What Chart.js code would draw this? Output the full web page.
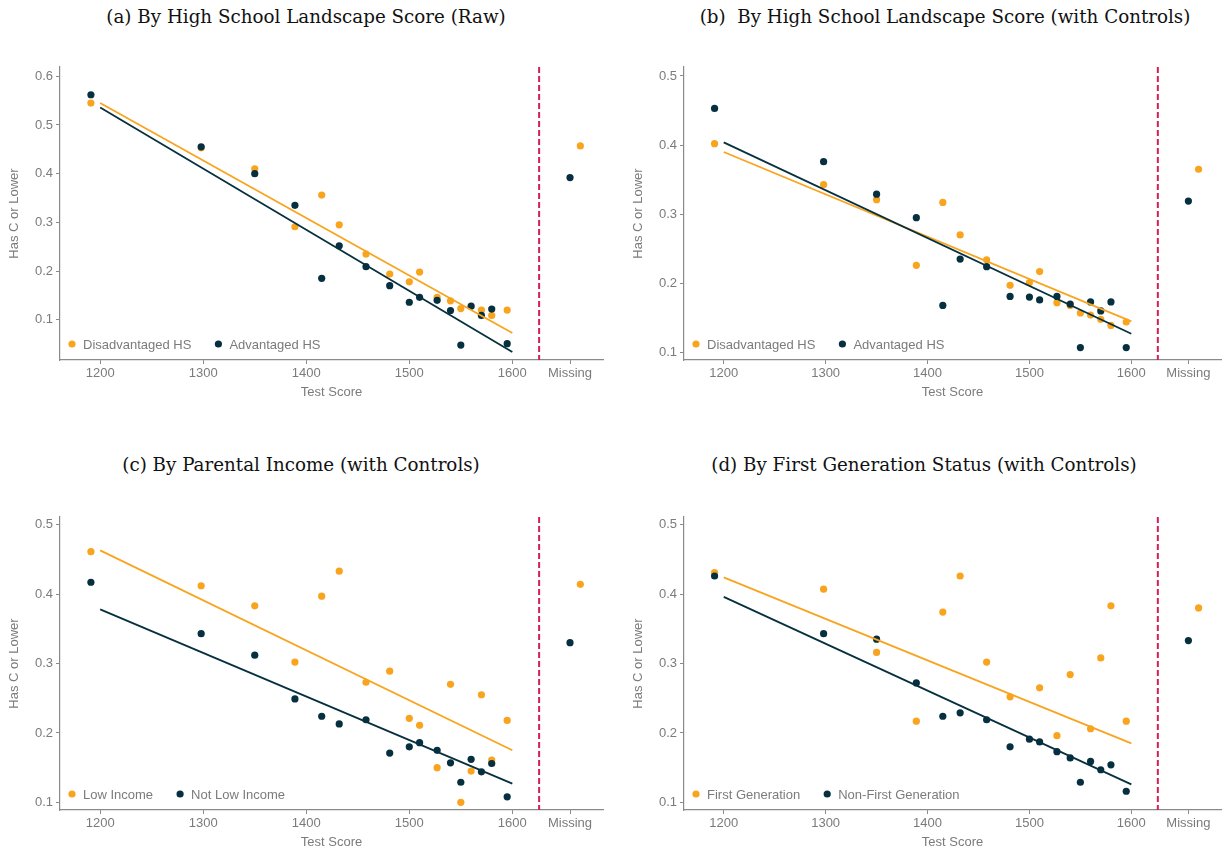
<!DOCTYPE html>
<html>
<head>
<meta charset="utf-8">
<script src="https://cdn.jsdelivr.net/npm/chart.js@4.4.0/dist/chart.umd.min.js"></script>
<style>
body { margin: 0; background: #fff; width: 1225px; height: 854px; position: relative; overflow: hidden; }
canvas { position: absolute; }
.ttl { position: absolute; font-family: "DejaVu Serif", serif; font-size: 18.3px; color: #111; white-space: pre; transform: translateX(-50%); }
</style>
</head>
<body>
<div class="ttl" style="left:306px;top:6px">(a) By High School Landscape Score (Raw)</div>
<div class="ttl" style="left:945px;top:6px">(b)  By High School Landscape Score (with Controls)</div>
<div class="ttl" style="left:301px;top:454px">(c) By Parental Income (with Controls)</div>
<div class="ttl" style="left:924px;top:454px">(d) By First Generation Status (with Controls)</div>
<canvas id="c0" width="612" height="345" style="left:0px;top:55px"></canvas>
<canvas id="c1" width="601" height="345" style="left:624px;top:55px"></canvas>
<canvas id="c2" width="612" height="345" style="left:0px;top:505px"></canvas>
<canvas id="c3" width="601" height="345" style="left:624px;top:505px"></canvas>
<script>
// test score bins (x) shared by all four panels
var scores = [1191, 1298, 1350, 1389, 1415, 1432, 1458, 1481, 1500, 1510, 1527, 1540, 1550, 1560, 1570, 1580, 1595];
var scoreTicks = [1200, 1300, 1400, 1500, 1600];
var missingPos = 1656;   // where the "Missing" group sits on the axis
var missingDodge = 10;
var cutoff = 1626;       // red dashed separator
var fitEnds = [1200, 1600];

// (a) raw, by HS landscape
var rawDisadv = [0.545, 0.453, 0.410, 0.291, 0.356, 0.295, 0.235, 0.194, 0.178, 0.198, 0.146, 0.139, 0.123, null, 0.120, 0.109, 0.120];
var rawAdv    = [0.562, 0.455, 0.400, 0.335, 0.185, 0.252, 0.209, 0.170, 0.136, 0.146, 0.140, 0.119, 0.048, 0.128, 0.109, 0.122, 0.051];
var rawMissing = [0.457, 0.392];
var rawFitDisadv = [0.545, 0.073];
var rawFitAdv = [0.536, 0.034];

// (b) with controls, by HS landscape
var ctlDisadv = [0.402, 0.343, 0.321, 0.226, 0.317, 0.270, 0.234, 0.197, 0.201, 0.217, 0.172, 0.168, 0.157, 0.154, 0.148, 0.139, 0.144];
var ctlAdv    = [0.453, 0.376, 0.329, 0.295, 0.168, 0.235, 0.224, 0.181, 0.180, 0.176, 0.181, 0.170, 0.107, 0.173, 0.160, 0.173, 0.107];
var ctlMissing = [0.365, 0.319];
var ctlFitDisadv = [0.390, 0.145];
var ctlFitAdv = [0.404, 0.127];

// (c) parental income
var lowInc    = [0.461, 0.412, 0.383, 0.302, 0.397, 0.433, 0.273, 0.289, 0.221, 0.211, 0.150, 0.270, 0.100, 0.145, 0.255, 0.161, 0.218];
var notLowInc = [0.417, 0.343, 0.312, 0.249, 0.224, 0.213, 0.219, 0.171, 0.180, 0.186, 0.175, 0.157, 0.129, 0.162, 0.144, 0.156, 0.108];
var incMissing = [0.414, 0.330];
var incFitLow = [0.463, 0.175];
var incFitNotLow = [0.378, 0.127];

// (d) first generation
var firstGen    = [0.431, 0.407, 0.316, 0.217, 0.374, 0.426, 0.302, 0.252, null, 0.265, 0.196, 0.284, null, 0.206, 0.308, 0.383, 0.217];
var nonFirstGen = [0.426, 0.343, 0.335, 0.272, 0.224, 0.229, 0.219, 0.180, 0.191, 0.187, 0.173, 0.164, 0.129, 0.159, 0.147, 0.154, 0.116];
var genMissing = [0.380, 0.333];
var genFitFirst = [0.424, 0.185];
var genFitNonFirst = [0.396, 0.126];

var yTicksA = [0.1, 0.2, 0.3, 0.4, 0.5, 0.6];
var yTicksB = [0.1, 0.2, 0.3, 0.4, 0.5];

var ORANGE = "#f8a41f";
var NAVY = "#06303f";
var GREY = "#7b7b7b";

var panels = [
  { id: "c0", labels: ["Disadvantaged HS", "Advantaged HS"], a: rawDisadv, b: rawAdv, miss: rawMissing,
    fa: rawFitDisadv, fb: rawFitAdv, ymin: 0.0174, ymax: 0.619, yt: yTicksA, right: 9 },
  { id: "c1", labels: ["Disadvantaged HS", "Advantaged HS"], a: ctlDisadv, b: ctlAdv, miss: ctlMissing,
    fa: ctlFitDisadv, fb: ctlFitAdv, ymin: 0.089, ymax: 0.513, yt: yTicksB, right: 2 },
  { id: "c2", labels: ["Low Income", "Not Low Income"], a: lowInc, b: notLowInc, miss: incMissing,
    fa: incFitLow, fb: incFitNotLow, ymin: 0.089, ymax: 0.511, yt: yTicksB, right: 9 },
  { id: "c3", labels: ["First Generation", "Non-First Generation"], a: firstGen, b: nonFirstGen, miss: genMissing,
    fa: genFitFirst, fb: genFitNonFirst, ymin: 0.089, ymax: 0.511, yt: yTicksB, right: 2 }
];

// red dashed line between scores and the "Missing" group
var cutoffLine = {
  id: "cutoffLine",
  beforeDatasetsDraw: function(chart) {
    var ctx = chart.ctx, area = chart.chartArea;
    var x = chart.scales.x.getPixelForValue(cutoff);
    ctx.save();
    ctx.strokeStyle = "#d41f55";
    ctx.lineWidth = 2;
    ctx.setLineDash([6, 3]);
    ctx.beginPath();
    ctx.moveTo(x, area.top);
    ctx.lineTo(x, area.bottom);
    ctx.stroke();
    ctx.restore();
  }
};

// ggplot style legend sitting inside the plot, bottom left
var innerLegend = {
  id: "innerLegend",
  afterDraw: function(chart) {
    var ctx = chart.ctx, area = chart.chartArea;
    var items = chart.options.plugins.innerLegend.items;
    var y = area.bottom - 16;
    var x = area.left + 12;
    ctx.save();
    ctx.font = "13px 'Liberation Sans', Arial, sans-serif";
    ctx.textBaseline = "middle";
    items.forEach(function(it) {
      ctx.fillStyle = it.color;
      ctx.beginPath();
      ctx.arc(x, y, 3.6, 0, Math.PI * 2);
      ctx.fill();
      ctx.fillStyle = GREY;
      ctx.fillText(it.text, x + 11, y + 1);
      x += 11 + ctx.measureText(it.text).width + 27;
    });
    ctx.restore();
  }
};

function pts(ys, miss) {
  var out = scores.map(function(s, i) { return { x: s, y: ys[i] }; });
  out.push(miss);
  return out;
}

function fit(ends) {
  return fitEnds.map(function(s, i) { return { x: s, y: ends[i] }; });
}

panels.forEach(function(p) {
  var ctx = document.getElementById(p.id).getContext("2d");
  new Chart(ctx, {
    type: "scatter",
    data: {
      datasets: [
        { type: "line", data: fit(p.fb), borderColor: NAVY, borderWidth: 1.8, pointRadius: 0, fill: false },
        { type: "line", data: fit(p.fa), borderColor: ORANGE, borderWidth: 1.8, pointRadius: 0, fill: false },
        { data: pts(p.b, { x: missingPos, y: p.miss[1] }), backgroundColor: NAVY, borderWidth: 0, pointRadius: 3.6 },
        { data: pts(p.a, { x: missingPos + missingDodge, y: p.miss[0] }), backgroundColor: ORANGE, borderWidth: 0, pointRadius: 3.6 }
      ]
    },
    options: {
      responsive: false,
      animation: false,
      layout: { padding: { top: 12, right: p.right, bottom: 0, left: 0 } },
      scales: {
        x: {
          type: "linear",
          min: 1161,
          max: 1688,
          afterBuildTicks: function(scale) {
            scale.ticks = scoreTicks.concat([missingPos]).map(function(v) { return { value: v }; });
          },
          afterFit: function(scale) { scale.height = 40; },
          ticks: {
            color: GREY,
            font: { family: "'Liberation Sans', Arial, sans-serif", size: 13 },
            padding: 2,
            maxRotation: 0,
            autoSkip: false,
            callback: function(v) { return v === missingPos ? "Missing" : String(v); }
          },
          grid: { display: true, drawOnChartArea: false, drawTicks: true, tickLength: 4, color: "#8a8a8a" },
          border: { display: true, color: "#8a8a8a", width: 1.2 },
          title: {
            display: true, text: "Test Score", color: GREY,
            font: { family: "'Liberation Sans', Arial, sans-serif", size: 13 },
            padding: { top: 0, bottom: 0 }
          }
        },
        y: {
          min: p.ymin,
          max: p.ymax,
          afterBuildTicks: function(scale) {
            scale.ticks = p.yt.map(function(v) { return { value: v }; });
          },
          afterFit: function(scale) { scale.width = 60; },
          ticks: {
            color: GREY,
            font: { family: "'Liberation Sans', Arial, sans-serif", size: 13 },
            padding: 3,
            callback: function(v) { return v.toFixed(1); }
          },
          grid: { display: true, drawOnChartArea: false, drawTicks: true, tickLength: 4, color: "#8a8a8a" },
          border: { display: true, color: "#8a8a8a", width: 1.2 },
          title: {
            display: true, text: "Has C or Lower", color: GREY,
            font: { family: "'Liberation Sans', Arial, sans-serif", size: 13 },
            padding: { top: 7, bottom: 0 }
          }
        }
      },
      plugins: {
        legend: { display: false },
        tooltip: { enabled: false },
        innerLegend: { items: [{ text: p.labels[0], color: ORANGE }, { text: p.labels[1], color: NAVY }] }
      }
    },
    plugins: [cutoffLine, innerLegend]
  });
});
</script>
</body>
</html>
